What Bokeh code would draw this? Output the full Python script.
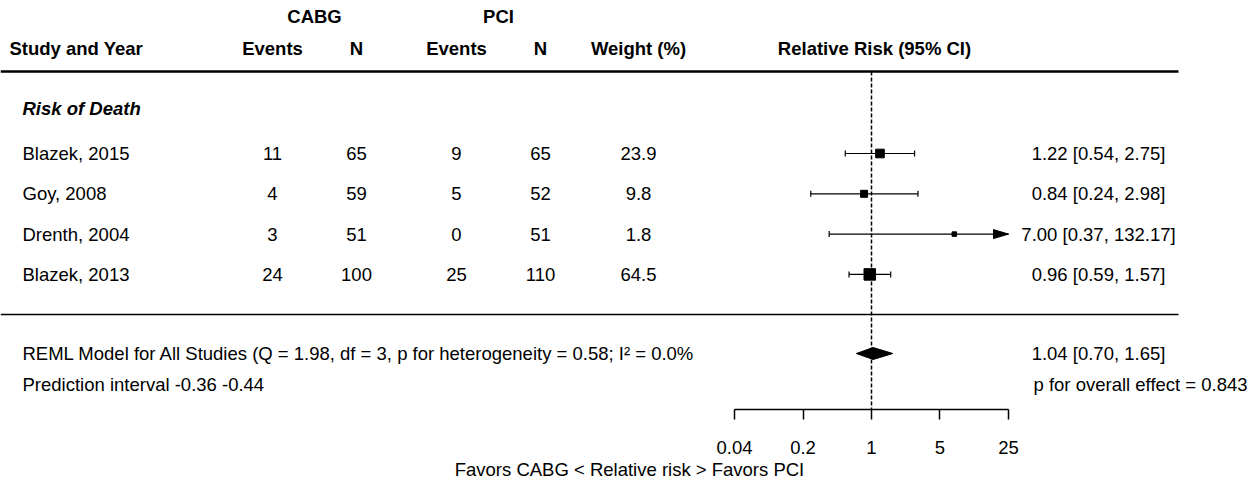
import numpy as np
from bokeh.plotting import figure
from bokeh.models import (Range1d, LogScale, LinearAxis, FixedTicker,
                          CustomJSTickFormatter, ColumnDataSource)
from bokeh.core.properties import value
from bokeh.embed import file_html
from bokeh.resources import INLINE

# ---------------- data ----------------
studies = ["Blazek, 2015", "Goy, 2008", "Drenth, 2004", "Blazek, 2013"]
cabg_events = [11, 4, 3, 24]
cabg_n = [65, 59, 51, 100]
pci_events = [9, 5, 0, 25]
pci_n = [65, 52, 51, 110]
weights = [23.9, 9.8, 1.8, 64.5]
rr = [1.22, 0.84, 7.00, 0.96]
ci_lo = [0.54, 0.24, 0.37, 0.59]
ci_hi = [2.75, 2.98, 132.17, 1.57]
pooled_rr = 1.04
pooled_lo = 0.70
pooled_hi = 1.65
axis_ticks = [0.04, 0.2, 1, 5, 25]
subgroup = "Risk of Death"
model_text = "REML Model for All Studies (Q = 1.98, df = 3, p for heterogeneity = 0.58; I\u00b2 = 0.0%"
pred_text = "Prediction interval -0.36 -0.44"
overall_p_text = "p for overall effect = 0.843"
col_headers = ["Events", "N", "Events", "N", "Weight (%)"]
group_headers = ["CABG", "PCI"]

# ---------------- layout (page pixel units) ----------------
FONT = "Liberation Sans"
FS = "18.5px"
X0, X1 = 0, 1258
Y_TOP, Y_AXIS = 0, 409
ONE_X = 871.0
PX_PER_DEC = 98.0
row0, row_step = 153.0, 40.3
rows = [row0 + i * row_step for i in range(len(studies))]
y_group, y_head, y_rule1, y_sub = 16, 48, 71, 108
y_rule2, y_model, y_pred = 314, 353, 384
col_x = [272, 356, 456, 540, 638]
name_x = 22
ci_text_x = 1098
rule_end = 1178

rr_start = 10 ** ((X0 - ONE_X) / PX_PER_DEC)
rr_end = 10 ** ((X1 - ONE_X) / PX_PER_DEC)
alim_lo, alim_hi = axis_ticks[0], axis_ticks[-1]

p = figure(frame_width=X1 - X0, frame_height=Y_AXIS - Y_TOP,
           x_range=Range1d(X0, X1), y_range=Range1d(Y_AXIS, Y_TOP),
           output_backend="svg", toolbar_location=None,
           x_axis_location=None, y_axis_location=None,
           min_border=0, outline_line_color=None, background_fill_color="white")
p.extra_x_ranges = {"rr": Range1d(rr_start, rr_end)}
p.extra_x_scales = {"rr": LogScale()}
p.grid.visible = False

txt = dict(text_font=value(FONT), text_font_size=FS, text_color="black",
           text_baseline="middle")

# header
p.text(x=[(col_x[0] + col_x[1]) / 2, (col_x[2] + col_x[3]) / 2], y=[y_group] * 2,
       text=group_headers, text_align="center", text_font_style="bold", **txt)
p.text(x=col_x, y=[y_head] * len(col_x), text=col_headers, text_align="center",
       text_font_style="bold", **txt)
p.text(x=[9], y=[y_head], text=["Study and Year"], text_align="left",
       text_font_style="bold", **txt)
p.text(x=[874], y=[y_head], text=["Relative Risk (95% CI)"], text_align="center",
       text_font_style="bold", **txt)

# rules
p.segment(x0=[X0, X0], x1=[rule_end, rule_end], y0=[y_rule1, y_rule2],
          y1=[y_rule1, y_rule2], line_color="black", line_width=[2.5, 1.6])

# subgroup label
p.text(x=[name_x], y=[y_sub], text=[subgroup], text_align="left",
       text_font_style="bold italic", **txt)

# table body
src = ColumnDataSource(dict(
    y=rows, name=studies,
    ce=[str(v) for v in cabg_events], cn=[str(v) for v in cabg_n],
    pe=[str(v) for v in pci_events], pn=[str(v) for v in pci_n],
    w=[f"{v:.1f}" for v in weights],
    ci=[f"{a:.2f} [{b:.2f}, {c:.2f}]" for a, b, c in zip(rr, ci_lo, ci_hi)],
))
p.text(x=name_x, y="y", text="name", source=src, text_align="left", **txt)
for cx, field in zip(col_x, ["ce", "cn", "pe", "pn", "w"]):
    p.text(x=cx, y="y", text=field, source=src, text_align="center", **txt)
p.text(x=ci_text_x, y="y", text="ci", source=src, text_align="center", **txt)

# reference line at RR = 1
p.segment(x0=[1], x1=[1], y0=[y_rule1], y1=[Y_AXIS], x_range_name="rr",
          line_color="black", line_width=1.5, line_dash="4 2")

# confidence intervals
lo_c = [max(v, alim_lo) for v in ci_lo]
hi_c = [min(v, alim_hi) for v in ci_hi]
p.segment(x0=lo_c, x1=hi_c, y0=rows, y1=rows, x_range_name="rr",
          line_color="black", line_width=1.2)
cap_x, cap_y0, cap_y1 = [], [], []
for lo, hi, y in zip(ci_lo, ci_hi, rows):
    if lo >= alim_lo:
        cap_x.append(lo); cap_y0.append(y - 3); cap_y1.append(y + 3)
    if hi <= alim_hi:
        cap_x.append(hi); cap_y0.append(y - 3); cap_y1.append(y + 3)
p.segment(x0=cap_x, x1=cap_x, y0=cap_y0, y1=cap_y1, x_range_name="rr",
          line_color="black", line_width=1.2)

# arrow heads for truncated intervals
head_len = 15.0
base = alim_hi / 10 ** (head_len / PX_PER_DEC)
xs_h, ys_h = [], []
for hi, y in zip(ci_hi, rows):
    if hi > alim_hi:
        xs_h.append([base, alim_hi, base])
        ys_h.append([y - 4.5, y, y + 4.5])
if xs_h:
    p.patches(xs=xs_h, ys=ys_h, x_range_name="rr", fill_color="black",
              line_color="black")

# squares sized by weight
w = np.array(weights)
sizes = 4.5 + 7 * np.sqrt((w - w.min()) / (w.max() - w.min()))
p.scatter(x=rr, y=rows, size=sizes, marker="square", x_range_name="rr",
          fill_color="black", line_color="black")

# pooled diamond
p.patch(x=[pooled_lo, pooled_rr, pooled_hi, pooled_rr],
        y=[y_model, y_model - 6, y_model, y_model + 6], x_range_name="rr",
        fill_color="black", line_color="black")

# summary texts
p.text(x=[name_x, name_x], y=[y_model, y_pred], text=[model_text, pred_text],
       text_align="left", **txt)
p.text(x=[ci_text_x], y=[y_model],
       text=[f"{pooled_rr:.2f} [{pooled_lo:.2f}, {pooled_hi:.2f}]"],
       text_align="center", **txt)
p.text(x=[1033], y=[y_pred], text=[overall_p_text], text_align="left", **txt)

# x axis
ax = LinearAxis(x_range_name="rr", ticker=FixedTicker(ticks=axis_ticks),
                formatter=CustomJSTickFormatter(code="return String(tick)"),
                bounds=(alim_lo, alim_hi),
                axis_label="Favors CABG < Relative risk > Favors PCI")
ax.axis_line_color = "black"
ax.axis_line_width = 1.5
ax.major_tick_line_color = "black"
ax.major_tick_line_width = 1.5
ax.major_tick_in = 0
ax.major_tick_out = 10
ax.minor_tick_in = 0
ax.minor_tick_out = 0
ax.major_label_text_font = FONT
ax.major_label_text_font_size = FS
ax.major_label_text_color = "black"
ax.major_label_standoff = 21
ax.axis_label_text_font = FONT
ax.axis_label_text_font_size = FS
ax.axis_label_text_font_style = "normal"
ax.axis_label_text_color = "black"
ax.axis_label_standoff = 2
p.add_layout(ax, "below")

open("out.html", "w").write(file_html(p, INLINE))
